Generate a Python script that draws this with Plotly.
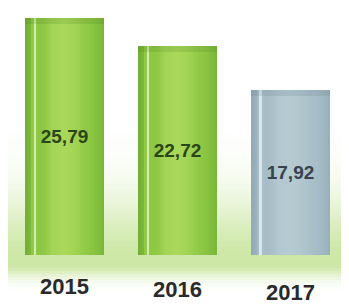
import math
import plotly.graph_objects as go

# ---- data ----
years = ["2015", "2016", "2017"]
values = [25.79, 22.72, 17.92]
value_labels = ["25,79", "22,72", "17,92"]

# ---- style ----
# the page body has an 8px margin, so the figure is drawn 8px shorter/narrower
OFF = 8
W, H = 349 - OFF, 305 - OFF
PX_PER_UNIT = 9.19
BASE_PX = 255 - OFF
y_max = BASE_PX / PX_PER_UNIT
y_min = y_max - H / PX_PER_UNIT
PX_PER_CAT = 112.9
x_lo = -(64.4 - OFF) / PX_PER_CAT
x_hi = x_lo + W / PX_PER_CAT

BAR_W = 0.70
palettes = {
    "green": dict(dark=(104, 164, 48), mid=(136, 196, 64), bright=(170, 216, 90), hi=(232, 246, 204),
                  text="#2a4619", rim="rgba(70,120,30,0.16)"),
    "gray": dict(dark=(138, 162, 176), mid=(164, 187, 197), bright=(182, 202, 210), hi=(236, 243, 246),
                 text="#36434d", rim="rgba(90,110,125,0.16)"),
}
bar_palette = ["green", "green", "gray"]

# shading profile across the cylinder: (t, level) level 0=dark,1=mid,2=bright,3=highlight
profile = [(0.00, 0.3), (0.07, 0.6), (0.10, 1.3), (0.12, 3.0), (0.15, 1.2), (0.22, 1.1),
           (0.35, 1.8), (0.50, 2.0), (0.62, 1.8), (0.80, 1.2), (0.94, 0.8), (1.00, 0.5)]


def level_at(t):
    for (t0, l0), (t1, l1) in zip(profile[:-1], profile[1:]):
        if t0 <= t <= t1:
            return l0 + (l1 - l0) * (t - t0) / (t1 - t0)
    return profile[-1][1]


def color_for(pal, lvl):
    keys = ["dark", "mid", "bright", "hi"]
    lvl = max(0.0, min(3.0, lvl))
    i = min(int(lvl), 2)
    f = lvl - i
    c0, c1 = pal[keys[i]], pal[keys[i + 1]]
    c = [round(a + (b - a) * f) for a, b in zip(c0, c1)]
    return f"rgb({c[0]},{c[1]},{c[2]})"


fig = go.Figure()

N = 36
sw = BAR_W / N
for i in range(N):
    t = (i + 0.5) / N
    lvl = level_at(t)
    cols = [color_for(palettes[p], lvl) for p in bar_palette]
    fig.add_trace(go.Bar(
        x=years, y=values, width=sw * 1.04, offset=-BAR_W / 2 + i * sw,
        marker=dict(color=cols, line=dict(width=0)),
        hoverinfo="skip", showlegend=False,
    ))

# subtle darker rim at the cylinder tops
RIM = 0.6
fig.add_trace(go.Bar(
    x=years, y=[RIM] * len(values), base=[v - RIM for v in values],
    width=BAR_W, offset=-BAR_W / 2,
    marker=dict(color=[palettes[p]["rim"] for p in bar_palette], line=dict(width=0)),
    hoverinfo="skip", showlegend=False,
))

# value labels
fig.add_trace(go.Bar(
    x=years, y=values, width=BAR_W, offset=-BAR_W / 2,
    marker=dict(color="rgba(0,0,0,0)", line=dict(width=0)),
    text=value_labels, textposition="inside", insidetextanchor="middle",
    textangle=0, constraintext="none",
    textfont=dict(family="Liberation Sans, Arial, sans-serif", size=19, weight="bold",
                  color=[palettes[p]["text"] for p in bar_palette]),
    hoverinfo="skip", showlegend=False,
))

# background glow
shapes = []
for px in range(100, 300, 3):
    s = 65 if px < 262 else 14
    a = 0.78 * math.exp(-((px - 262) / s) ** 2)
    shapes.append(dict(type="rect", xref="paper", yref="paper", x0=0, x1=1,
                       y0=1 - (px + 3 - OFF) / H, y1=1 - (px - OFF) / H, line=dict(width=0),
                       fillcolor=f"rgba(190,224,140,{a:.3f})", layer="below"))

# year labels (category axis: annotations use the category index)
year_px = [286, 289, 292]
annotations = []
for i, yr in enumerate(years):
    annotations.append(dict(x=i, xref="x", y=1 - (year_px[i] - OFF) / H, yref="paper",
                            text=yr, showarrow=False, yanchor="middle",
                            font=dict(family="Liberation Sans, Arial, sans-serif", size=22,
                                      color="#2a2a2a", weight="bold")))

fig.update_layout(
    width=W, height=H, margin=dict(l=0, r=0, t=0, b=0),
    barmode="overlay", bargap=0,
    paper_bgcolor="white", plot_bgcolor="rgba(0,0,0,0)",
    xaxis=dict(type="category", range=[x_lo, x_hi], visible=False, fixedrange=True),
    yaxis=dict(range=[y_min, y_max], visible=False, fixedrange=True),
    shapes=shapes, annotations=annotations, showlegend=False,
)

fig.write_html("out.html")
